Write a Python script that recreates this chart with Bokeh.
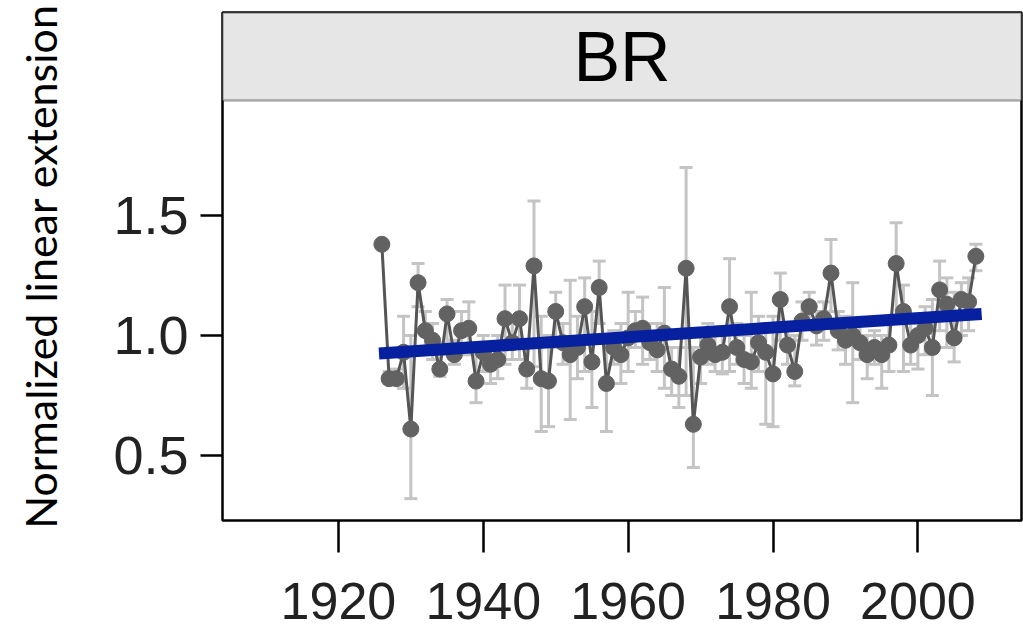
from bokeh.plotting import figure
from bokeh.models import (Range1d, FixedTicker, PrintfTickFormatter, ColumnDataSource,
                          Whisker, TeeHead, BoxAnnotation, Label)
from bokeh.embed import file_html
from bokeh.resources import INLINE

years = list(range(1926, 2009))
values = [1.38, 0.82, 0.82, 0.93, 0.61, 1.22, 1.02, 0.98, 0.86, 1.09,
          0.92, 1.02, 1.03, 0.81, 0.93, 0.88, 0.90, 1.07, 0.97, 1.07,
          0.86, 1.29, 0.82, 0.81, 1.10, 0.97, 0.92, 0.95, 1.12, 0.89,
          1.20, 0.80, 0.95, 0.92, 0.99, 1.02, 1.03, 0.97, 0.94, 1.01,
          0.86, 0.83, 1.28, 0.63, 0.91, 0.96, 0.92, 0.93, 1.12, 0.95,
          0.90, 0.89, 0.97, 0.93, 0.84, 1.15, 0.96, 0.85, 1.06, 1.12,
          1.04, 1.07, 1.26, 1.02, 0.98, 1.00, 0.97, 0.92, 0.95, 0.92,
          0.96, 1.30, 1.10, 0.96, 1.00, 1.03, 0.95, 1.19, 1.13, 0.99,
          1.15, 1.14, 1.33]
lower = [1.38, 0.80, 0.80, 0.78, 0.32, 1.12, 0.95, 0.90, 0.83, 0.97,
         0.88, 0.92, 0.92, 0.72, 0.85, 0.80, 0.82, 0.88, 0.90, 0.90,
         0.78, 0.87, 0.60, 0.62, 0.95, 0.88, 0.65, 0.82, 0.85, 0.70,
         1.05, 0.60, 0.88, 0.80, 0.85, 0.95, 0.88, 0.90, 0.85, 0.78,
         0.75, 0.70, 0.75, 0.45, 0.80, 0.88, 0.85, 0.84, 0.85, 0.88,
         0.80, 0.78, 0.85, 0.63, 0.62, 0.98, 0.88, 0.79, 0.98, 1.05,
         0.96, 0.98, 1.10, 0.94, 0.88, 0.72, 0.90, 0.82, 0.88, 0.78,
         0.85, 1.07, 0.85, 0.88, 0.86, 0.92, 0.75, 1.02, 0.95, 0.89,
         1.00, 1.02, 1.27]
upper = [1.38, 0.85, 0.86, 1.08, 1.00, 1.30, 1.10, 1.05, 0.92, 1.15,
         0.98, 1.10, 1.14, 0.95, 1.00, 0.95, 1.00, 1.21, 1.05, 1.21,
         0.95, 1.56, 1.08, 1.00, 1.18, 1.05, 1.23, 1.08, 1.24, 1.10,
         1.31, 0.97, 1.02, 1.05, 1.18, 1.10, 1.16, 1.05, 1.05, 1.20,
         0.95, 0.95, 1.70, 0.95, 1.00, 1.05, 1.00, 1.02, 1.32, 1.05,
         1.00, 1.18, 1.08, 1.05, 1.08, 1.26, 1.05, 1.00, 1.14, 1.18,
         1.10, 1.14, 1.40, 1.10, 1.08, 1.22, 1.05, 1.00, 1.02, 1.00,
         1.05, 1.47, 1.21, 1.05, 1.08, 1.12, 1.15, 1.31, 1.24, 1.18,
         1.22, 1.24, 1.38]
trend_years = [1925.6, 2008.8]
trend_values = [0.925, 1.09]
x_ticks = [1920, 1940, 1960, 1980, 2000]
y_ticks = [0.5, 1.0, 1.5]
panel_label = "BR"
y_title = "Normalized linear extension"

src = ColumnDataSource(dict(year=years, value=values, lower=lower, upper=upper))

x0, x1 = 1904, 2014.3
y0, y1 = 0.229, 2.346
strip_bottom = 1.979
p = figure(width=1023, height=643, output_backend="svg", toolbar_location=None,
           x_range=Range1d(x0, x1), y_range=Range1d(y0, y1),
           min_border_left=222, min_border_right=2, min_border_top=12, min_border_bottom=123)
p.background_fill_color = "white"
p.border_fill_color = "white"
p.grid.visible = False
p.outline_line_color = "black"
p.outline_line_width = 2.5

strip = BoxAnnotation(bottom=strip_bottom, fill_color="#e6e6e6", fill_alpha=1.0,
                      line_color="black", line_width=2.5, level="underlay")
p.add_layout(strip)
p.add_layout(Label(x=(x0 + x1) / 2, y=(strip_bottom + y1) / 2, text=panel_label,
                   text_align="center", text_baseline="middle", text_font_size="70px",
                   text_font="Liberation Sans", text_color="black"))

p.line("year", "value", source=src, line_color="#555555", line_width=3)
p.scatter("year", "value", source=src, size=16, fill_color="#626262", line_color="#626262")

wk = Whisker(source=src, base="year", upper="upper", lower="lower",
             line_color="#c4c4c4", line_width=3,
             upper_head=TeeHead(size=13, line_color="#c4c4c4", line_width=3),
             lower_head=TeeHead(size=13, line_color="#c4c4c4", line_width=3))
p.add_layout(wk)

p.line(trend_years, trend_values, line_color="#0620a0", line_width=12, level="overlay")

for ax in (p.xaxis[0], p.yaxis[0]):
    ax.axis_line_color = None
    ax.major_tick_line_color = "black"
    ax.major_tick_line_width = 2.5
    ax.minor_tick_line_color = None
    ax.major_tick_in = 0
    ax.major_label_text_font = "Liberation Sans"
    ax.major_label_text_color = "#222222"

p.xaxis[0].ticker = FixedTicker(ticks=x_ticks)
p.xaxis[0].major_tick_out = 32
p.xaxis[0].major_label_standoff = 30
p.xaxis[0].major_label_text_font_size = "52px"

ya = p.yaxis[0]
ya.ticker = FixedTicker(ticks=y_ticks)
ya.formatter = PrintfTickFormatter(format="%.1f")
ya.major_tick_out = 22
ya.major_label_standoff = 12
ya.major_label_text_font_size = "54px"
ya.axis_label = y_title
ya.axis_label_text_font = "Lato"
ya.axis_label_text_font_style = "normal"
ya.axis_label_text_font_size = "43px"
ya.axis_label_text_color = "black"
ya.axis_label_standoff = 44

open("out.html", "w").write(file_html(p, INLINE))
